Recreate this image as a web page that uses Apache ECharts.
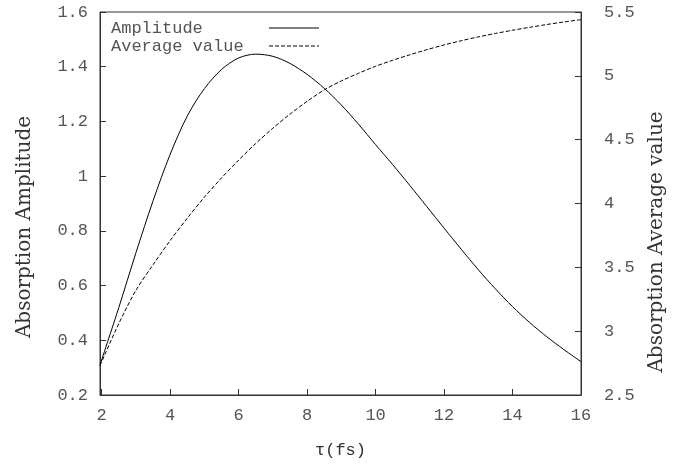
<!DOCTYPE html>
<html>
<head>
<meta charset="utf-8">
<script src="https://cdn.jsdelivr.net/npm/echarts@6/dist/echarts.min.js"></script>
<style>
  html, body { margin: 0; padding: 0; background: #fff; }
  #chart-container { width: 692px; height: 464px; }
</style>
</head>
<body>
<div id="chart-container"></div>
<script>
// tau (fs) sample points
let tau = [1.95, 2.5, 3, 3.5, 4, 4.5, 5, 5.5, 6, 6.5, 7, 7.5, 8, 8.5, 9, 9.5,
    10, 10.5, 11, 11.5, 12, 12.5, 13, 13.5, 14, 14.5, 15, 15.5, 16];
// left axis
let amplitude = [0.31, 0.52, 0.72, 0.91, 1.08, 1.22, 1.32, 1.39, 1.432, 1.446, 1.438, 1.412,
    1.372, 1.321, 1.26, 1.19, 1.115, 1.042, 0.966, 0.888, 0.81, 0.733, 0.658, 0.588,
    0.523, 0.465, 0.413, 0.366, 0.322];
// right axis
let average = [2.73, 3.06, 3.32, 3.52, 3.71, 3.885, 4.05, 4.2, 4.34, 4.47, 4.59, 4.70,
    4.80, 4.89, 4.96, 5.02, 5.075, 5.122, 5.165, 5.205, 5.242, 5.275, 5.305, 5.332,
    5.357, 5.38, 5.402, 5.422, 5.44];
let xTicks = [2, 4, 6, 8, 10, 12, 14, 16];
let seriesNames = ['Amplitude', 'Average value'];

let dom = document.getElementById('chart-container');
let myChart = echarts.init(dom, null, { renderer: 'canvas' });

const mono = 'Liberation Mono';
const serif = 'DejaVu Serif';
const tickLabel = { fontFamily: mono, fontSize: 17, color: '#555' };

function pairs(ys) {
    return tau.map(function(t, i) { return [t, ys[i]]; });
}

let option = {
    animation: false,
    grid: {
        left: 100, right: 111, top: 12, bottom: 62,
        show: true, borderColor: '#333', borderWidth: 1
    },
    legend: {
        left: 111, top: 19,
        padding: 0,
        orient: 'vertical',
        align: 'right',
        itemWidth: 50, itemHeight: 14, itemGap: 0,
        itemStyle: { opacity: 0 },
        lineStyle: { width: 1 },
        data: seriesNames,
        formatter: function(name) {
            return (name + '               ').slice(0, 15);
        },
        textStyle: { fontFamily: mono, fontSize: 17, color: '#555', lineHeight: 18 }
    },
    xAxis: {
        type: 'value',
        min: 1.95, max: 16,
        name: 'τ(fs)',
        nameLocation: 'middle',
        nameGap: 47,
        nameTextStyle: { fontFamily: mono, fontSize: 17, color: '#333' },
        splitLine: { show: false },
        axisLine: { lineStyle: { color: '#333', width: 1 } },
        axisTick: { inside: true, length: 6, customValues: xTicks, lineStyle: { color: '#333' } },
        axisLabel: Object.assign({ margin: 12, customValues: xTicks }, tickLabel)
    },
    yAxis: [
        {
            type: 'value',
            min: 0.2, max: 1.6, interval: 0.2,
            splitLine: { show: false },
            axisLine: { show: true, lineStyle: { color: '#333', width: 1 } },
            axisTick: { show: true, inside: true, length: 6, lineStyle: { color: '#333' } },
            axisLabel: Object.assign({
                margin: 12,
                formatter: function(v) { return String(+v.toFixed(1)); }
            }, tickLabel)
        },
        {
            type: 'value',
            position: 'right',
            min: 2.5, max: 5.5, interval: 0.5,
            splitLine: { show: false },
            axisLine: { show: true, lineStyle: { color: '#333', width: 1 } },
            axisTick: { show: true, inside: true, length: 6, lineStyle: { color: '#333' } },
            axisLabel: Object.assign({
                margin: 23,
                formatter: function(v) { return String(+v.toFixed(1)); }
            }, tickLabel)
        }
    ],
    graphic: [
        {
            type: 'text',
            x: 25, y: 227,
            rotation: Math.PI / 2,
            style: {
                text: 'Absorption Amplitude',
                font: '20px "' + serif + '"',
                fill: '#333',
                align: 'center',
                verticalAlign: 'middle'
            }
        },
        {
            type: 'text',
            x: 657, y: 242,
            rotation: Math.PI / 2,
            style: {
                text: 'Absorption Average value',
                font: '20px "' + serif + '"',
                fill: '#333',
                align: 'center',
                verticalAlign: 'middle'
            }
        }
    ],
    series: [
        {
            name: seriesNames[0],
            type: 'line',
            yAxisIndex: 0,
            symbol: 'none',
            smooth: 0.3,
            lineStyle: { color: '#000', width: 1 },
            itemStyle: { color: '#000' },
            data: pairs(amplitude)
        },
        {
            name: seriesNames[1],
            type: 'line',
            yAxisIndex: 1,
            symbol: 'none',
            smooth: 0.3,
            lineStyle: { color: '#000', width: 1, type: [4, 2] },
            itemStyle: { color: '#000' },
            data: pairs(average)
        }
    ]
};

myChart.setOption(option);
window.addEventListener('resize', myChart.resize);
</script>
</body>
</html>
